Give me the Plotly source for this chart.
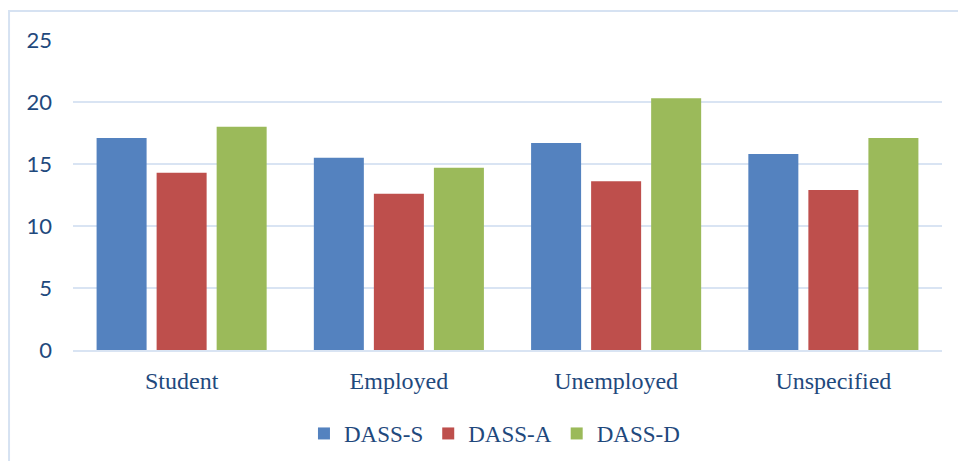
import plotly.graph_objects as go

categories = ["Student", "Employed", "Unemployed", "Unspecified"]
dass_s = [17.1, 15.5, 16.7, 15.8]
dass_a = [14.3, 12.6, 13.6, 12.9]
dass_d = [18.0, 14.7, 20.3, 17.1]
series_names = ["DASS-S", "DASS-A", "DASS-D"]
series_colors = ["#5482bf", "#be4f4c", "#9bba5a"]
y_ticks = [0, 5, 10, 15, 20, 25]

text_color = "#1F497D"
grid_color = "#d9e4f3"

fig = go.Figure()
for name, vals, col in zip(series_names, [dass_s, dass_a, dass_d], series_colors):
    fig.add_trace(go.Bar(x=categories, y=vals, name=name,
                         marker=dict(color=col, line=dict(width=0))))

fig.update_layout(
    width=958, height=461,
    margin=dict(l=73, r=16, t=40, b=111, autoexpand=False),
    paper_bgcolor="white", plot_bgcolor="white",
    barmode="group", bargap=0.171, bargroupgap=0.167,
    showlegend=True,
    legend=dict(orientation="h", x=0.485, xanchor="center", y=-0.2, yanchor="top",
                font=dict(family="Liberation Serif", size=23, color=text_color),
                itemwidth=30, tracegroupgap=0, itemsizing="constant"),
    font=dict(family="Liberation Serif", color=text_color),
)
fig.update_yaxes(range=[0, 25], tickvals=y_ticks, showgrid=True, gridcolor=grid_color,
                 gridwidth=2, zeroline=False, showline=False,
                 tickfont=dict(family="Lato", size=22, color=text_color),
                 ticks="", ticklabelstandoff=20)
fig.update_xaxes(showline=True, linecolor=grid_color, linewidth=2, showgrid=False,
                 tickfont=dict(family="Liberation Serif", size=24, color=text_color),
                 ticks="", ticklabelstandoff=8)

# outer chart border
fig.add_shape(type="rect", xref="paper", yref="paper",
              x0=-0.0736, x1=1.05, y0=-0.5, y1=1.0935,
              line=dict(color="#d6e2f2", width=2), layer="below")

fig.write_html("out.html")
